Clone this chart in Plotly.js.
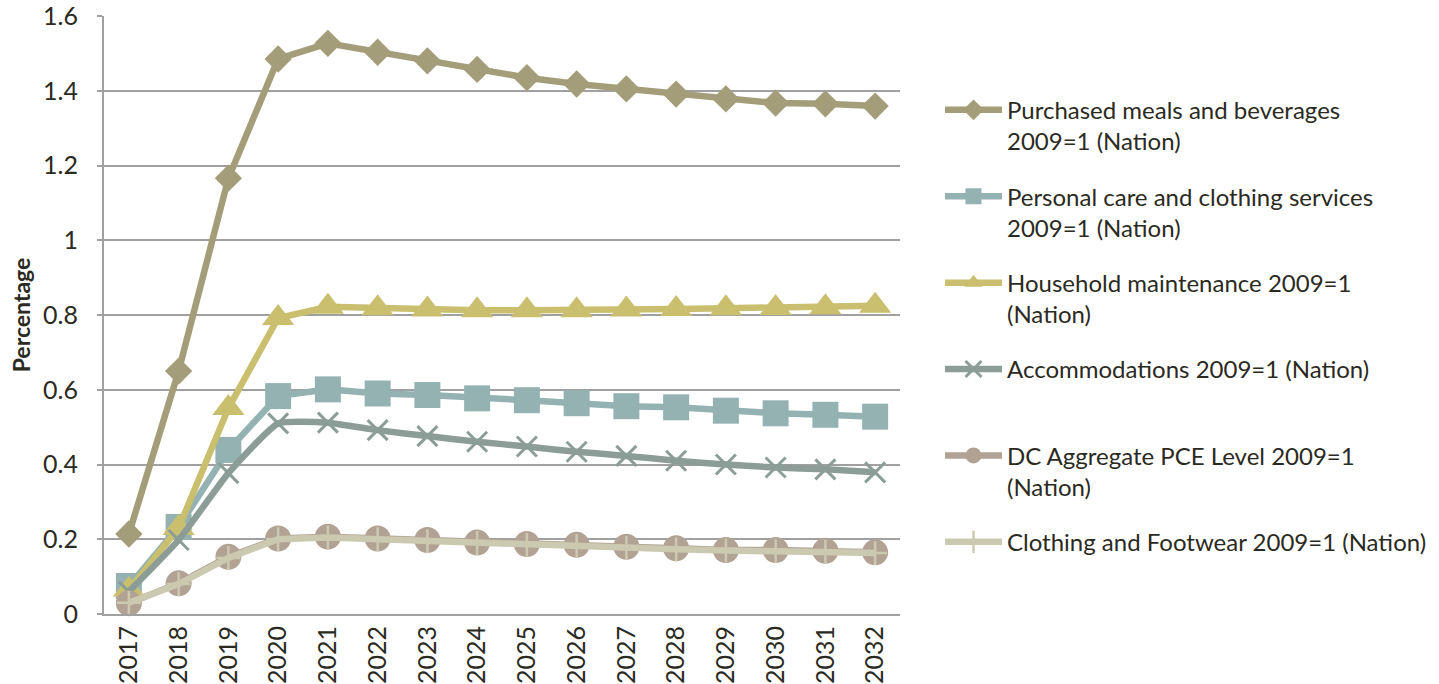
<!DOCTYPE html>
<html>
<head>
<meta charset="utf-8">
<script src="https://cdn.plot.ly/plotly-3.0.1.min.js"></script>
<style>html,body{margin:0;padding:0;background:#fff;}#chart{width:1439px;height:684px;}</style>
</head>
<body>
<div id="chart"></div>
<script>
const years = ["2017","2018","2019","2020","2021","2022","2023","2024","2025","2026","2027","2028","2029","2030","2031","2032"];
const purchasedMeals = [0.214,0.650,1.166,1.485,1.527,1.503,1.480,1.457,1.435,1.418,1.405,1.391,1.378,1.367,1.365,1.359];
const personalCare = [0.075,0.233,0.439,0.583,0.601,0.590,0.586,0.577,0.572,0.564,0.556,0.553,0.544,0.537,0.533,0.528];
const householdMaint = [0.065,0.230,0.551,0.792,0.822,0.818,0.815,0.813,0.813,0.813,0.815,0.816,0.818,0.819,0.821,0.825];
const accommodations = [0.060,0.198,0.377,0.510,0.512,0.492,0.476,0.461,0.448,0.434,0.423,0.410,0.400,0.392,0.387,0.379];
const dcAggregate = [0.029,0.082,0.153,0.202,0.207,0.202,0.198,0.191,0.187,0.185,0.180,0.176,0.171,0.171,0.169,0.165];
const clothingFootwear = [0.030,0.080,0.150,0.200,0.205,0.200,0.195,0.190,0.185,0.182,0.177,0.173,0.170,0.168,0.166,0.163];
const yTickVals = [0, 0.2, 0.4, 0.6, 0.8, 1, 1.2, 1.4, 1.6];
const yTickText = ["0", "0.2", "0.4", "0.6", "0.8", "1", "1.2", "1.4", "1.6"];

const names = [
  "Purchased meals and beverages<br>2009=1 (Nation)",
  "Personal care and clothing services<br>2009=1 (Nation)",
  "Household maintenance 2009=1<br>(Nation)",
  "Accommodations 2009=1 (Nation)<br>\u00a0",
  "DC Aggregate PCE Level 2009=1<br>(Nation)",
  "Clothing and Footwear 2009=1 (Nation)"
];

const FONT = "Lato, 'Open Sans', sans-serif";
const TXT = "#2b2a22";

function tr(y, name, color, symbol, size, opts) {
  opts = opts || {};
  const open = symbol.indexOf('open') >= 0;
  return {
    x: years, y: y, name: name, type: 'scatter', mode: 'lines+markers',
    cliponaxis: false,
    legendgroup: name,
    line: {color: color, width: 6.5, shape: opts.shape || 'linear', smoothing: opts.smoothing || 1},
    marker: {symbol: symbol, size: size, color: color,
             line: open ? {color: color, width: opts.mlw || 3} : {width: 0}}
  };
}

const data = [
  tr(purchasedMeals, names[0], "#A49D79", "diamond", 21),
  tr(personalCare, names[1], "#95B2B3", "square", 26),
  tr(householdMaint, names[2], "#C9BF6E", "triangle-up", 28),
  tr(accommodations, names[3], "#8C9D98", "x-thin-open", 20, {shape: 'spline', smoothing: 0.45, mlw: 3}),
  tr(dcAggregate, names[4], "#B2A293", "circle", 26),
  tr(clothingFootwear, names[5], "#CCC9B1", "cross-thin-open", 17, {mlw: 2.5})
];

const layout = {
  width: 1439, height: 684,
  margin: {l: 104, r: 539, t: 16, b: 70},
  paper_bgcolor: "#fff", plot_bgcolor: "#fff",
  font: {family: FONT, color: TXT, size: 24},
  showlegend: true,
  legend: {
    x: 940 / 1439, y: 0.880, xref: 'container', xanchor: 'left', yanchor: 'top',
    font: {family: FONT, size: 24, color: TXT},
    valign: 'top', traceorder: 'grouped', tracegroupgap: 21,
    itemwidth: 57,
    bgcolor: 'rgba(0,0,0,0)'
  },
  xaxis: {
    type: 'category', tickangle: -90,
    showgrid: false, showline: true, linecolor: "#A0A0A0", linewidth: 2,
    ticks: '', tickfont: {family: FONT, size: 25, color: TXT},
    range: [-0.5, 15.5], fixedrange: true
  },
  yaxis: {
    range: [0, 1.6], tickmode: 'array', tickvals: yTickVals, ticktext: yTickText,
    ticklabeloverflow: 'allow',
    showgrid: true, gridcolor: "#A0A0A0", gridwidth: 2,
    showline: true, linecolor: "#A0A0A0", linewidth: 2,
    ticks: 'outside', ticklen: 5, tickcolor: "#A0A0A0", tickwidth: 2,
    ticklabelstandoff: 14,
    zeroline: false,
    tickfont: {family: FONT, size: 25, color: TXT},
    title: {text: "<b>Percentage</b>", font: {family: FONT, size: 23, color: TXT}, standoff: 6},
    fixedrange: true
  },
  hovermode: false
};

Plotly.newPlot('chart', data, layout, {displayModeBar: false, staticPlot: true});
</script>
</body>
</html>
